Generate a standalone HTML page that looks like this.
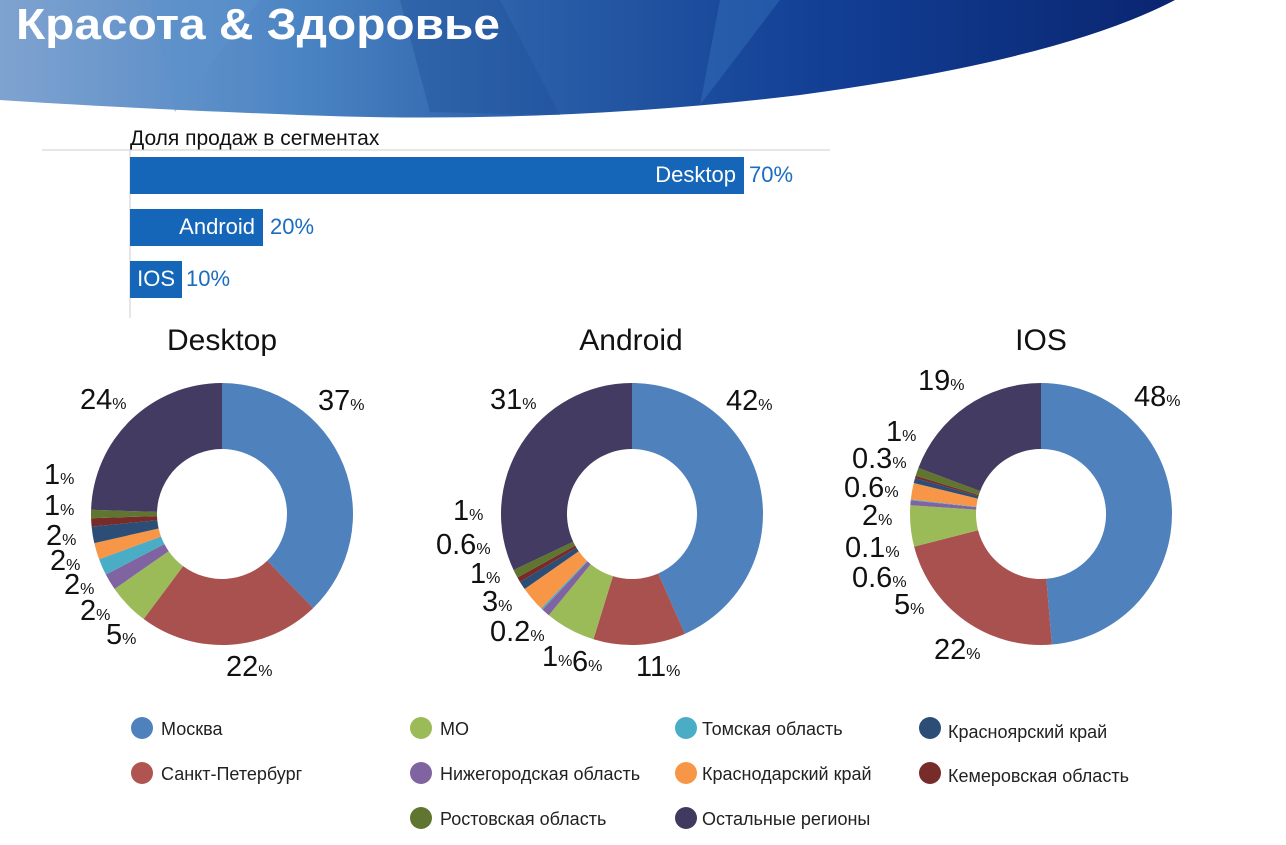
<!DOCTYPE html>
<html><head><meta charset="utf-8"><style>
body{margin:0;width:1286px;height:840px;background:#fff;overflow:hidden;font-family:"Liberation Sans","DejaVu Sans",sans-serif;}
</style></head><body>
<svg width="1286" height="840" viewBox="0 0 1286 840" xmlns="http://www.w3.org/2000/svg" font-family="Liberation Sans, DejaVu Sans, sans-serif">
<defs>
<linearGradient id="hg" x1="0" y1="0" x2="1" y2="0">
<stop offset="0" stop-color="#7fa3d0"/><stop offset="0.25" stop-color="#4c85c4"/><stop offset="0.45" stop-color="#2a5fa8"/><stop offset="0.7" stop-color="#123f95"/><stop offset="1" stop-color="#0a2570"/>
</linearGradient>
</defs>
<path d="M0 0 H1175 Q1060 60 800 95 Q550 125 300 115 Q120 108 0 100 Z" fill="url(#hg)"/>
<polygon points="150,0 260,0 175,112" fill="#5c92cc" opacity="0.5"/>
<polygon points="400,0 500,0 560,115 430,112" fill="#1f4f99" opacity="0.4"/>
<polygon points="720,0 780,0 700,105" fill="#3a78c0" opacity="0.4"/>
<text x="16" y="39" font-size="44" font-weight="bold" fill="#fff" textLength="484" lengthAdjust="spacingAndGlyphs">Красота &amp; Здоровье</text>

<text x="130" y="145" font-size="21" fill="#111">Доля продаж в сегментах</text>
<line x1="42" y1="150" x2="830" y2="150" stroke="#ccc"/>
<line x1="130" y1="150" x2="130" y2="318" stroke="#ccc"/>
<rect x="130" y="157" width="614" height="37" fill="#1565b8"/>
<rect x="130" y="209" width="133" height="37" fill="#1565b8"/>
<rect x="130" y="261" width="52" height="37" fill="#1565b8"/>
<g font-size="22">
<text x="736" y="182" text-anchor="end" fill="#fff">Desktop</text><text x="749" y="182" fill="#1a6cc0">70%</text>
<text x="255" y="234" text-anchor="end" fill="#fff">Android</text><text x="270" y="234" fill="#1a6cc0">20%</text>
<text x="175" y="286" text-anchor="end" fill="#fff">IOS</text><text x="186" y="286" fill="#1a6cc0">10%</text>
</g>
<g font-size="30" fill="#111" text-anchor="middle">
<text x="222" y="350">Desktop</text><text x="631" y="350">Android</text><text x="1041" y="350">IOS</text>
</g>
<g id="pies"></g>
<g font-size="29" fill="#111" id="labels"></g>

<g font-size="18" fill="#222">
<circle cx="142" cy="728" r="11" fill="#4f81bd"/><text x="161" y="735">Москва</text>
<circle cx="142" cy="773" r="11" fill="#b05452"/><text x="161" y="780">Санкт-Петербург</text>
<circle cx="421" cy="728" r="11" fill="#9bbb59"/><text x="440" y="735">МО</text>
<circle cx="421" cy="773" r="11" fill="#8064a2"/><text x="440" y="780">Нижегородская область</text>
<circle cx="421" cy="818" r="11" fill="#5f7530"/><text x="440" y="825">Ростовская область</text>
<circle cx="686" cy="728" r="11" fill="#4bacc6"/><text x="702" y="735">Томская область</text>
<circle cx="686" cy="773" r="11" fill="#f79646"/><text x="702" y="780">Краснодарский край</text>
<circle cx="686" cy="818" r="11" fill="#403a60"/><text x="702" y="825">Остальные регионы</text>
<circle cx="930" cy="728" r="11" fill="#2c4d75"/><text x="948" y="738">Красноярский край</text>
<circle cx="930" cy="773" r="11" fill="#772c2a"/><text x="948" y="782">Кемеровская область</text>
</g>
</svg>
<script>
var cols=["#4f81bd","#a9514f","#9bbb59","#8064a2","#4bacc6","#f79646","#2c4d75","#772c2a","#5f7530","#433b61"];
var data=[[222,37,22,5,2,2,2,2,1,1,24],[632,42,11,6,1,0.2,3,1,0.6,1,31],[1041,48,22,5,0.6,0.1,2,0.6,0.3,1,19]];
var g=document.getElementById("pies"),ns="http://www.w3.org/2000/svg",cy=514,R=131,r=65;
data.forEach(function(d){var cx=d[0],v=d.slice(1),s=v.reduce(function(a,b){return a+b},0),a=0;
v.forEach(function(x,i){var a2=a+x/s*2*Math.PI;function p(rr,t){return (cx+rr*Math.sin(t)).toFixed(2)+" "+(cy-rr*Math.cos(t)).toFixed(2)}
var lg=(a2-a)>Math.PI?1:0;var e=document.createElementNS(ns,"path");
e.setAttribute("d","M"+p(R,a)+"A"+R+" "+R+" 0 "+lg+" 1 "+p(R,a2)+"L"+p(r,a2)+"A"+r+" "+r+" 0 "+lg+" 0 "+p(r,a)+"Z");
e.setAttribute("fill",cols[i]);g.appendChild(e);a=a2;});});
var L=[[318,410,"37"],[226,676,"22"],[106,644,"5"],[80,620,"2"],[64,594,"2"],[50,570,"2"],[46,545,"2"],[44,515,"1"],[44,484,"1"],[80,409,"24"],
[726,410,"42"],[636,676,"11"],[572,671,"6"],[542,666,"1"],[490,641,"0.2"],[482,611,"3"],[470,583,"1"],[436,554,"0.6"],[453,520,"1"],[490,409,"31"],
[1134,406,"48"],[934,659,"22"],[894,614,"5"],[852,587,"0.6"],[845,557,"0.1"],[862,525,"2"],[844,497,"0.6"],[852,468,"0.3"],[886,441,"1"],[918,390,"19"]];
var lt=document.getElementById("labels");
L.forEach(function(l){var t=document.createElementNS(ns,"text");t.setAttribute("x",l[0]);t.setAttribute("y",l[1]);
t.innerHTML=l[2]+'<tspan font-size="16">%</tspan>';lt.appendChild(t);});
</script>
</body></html>
